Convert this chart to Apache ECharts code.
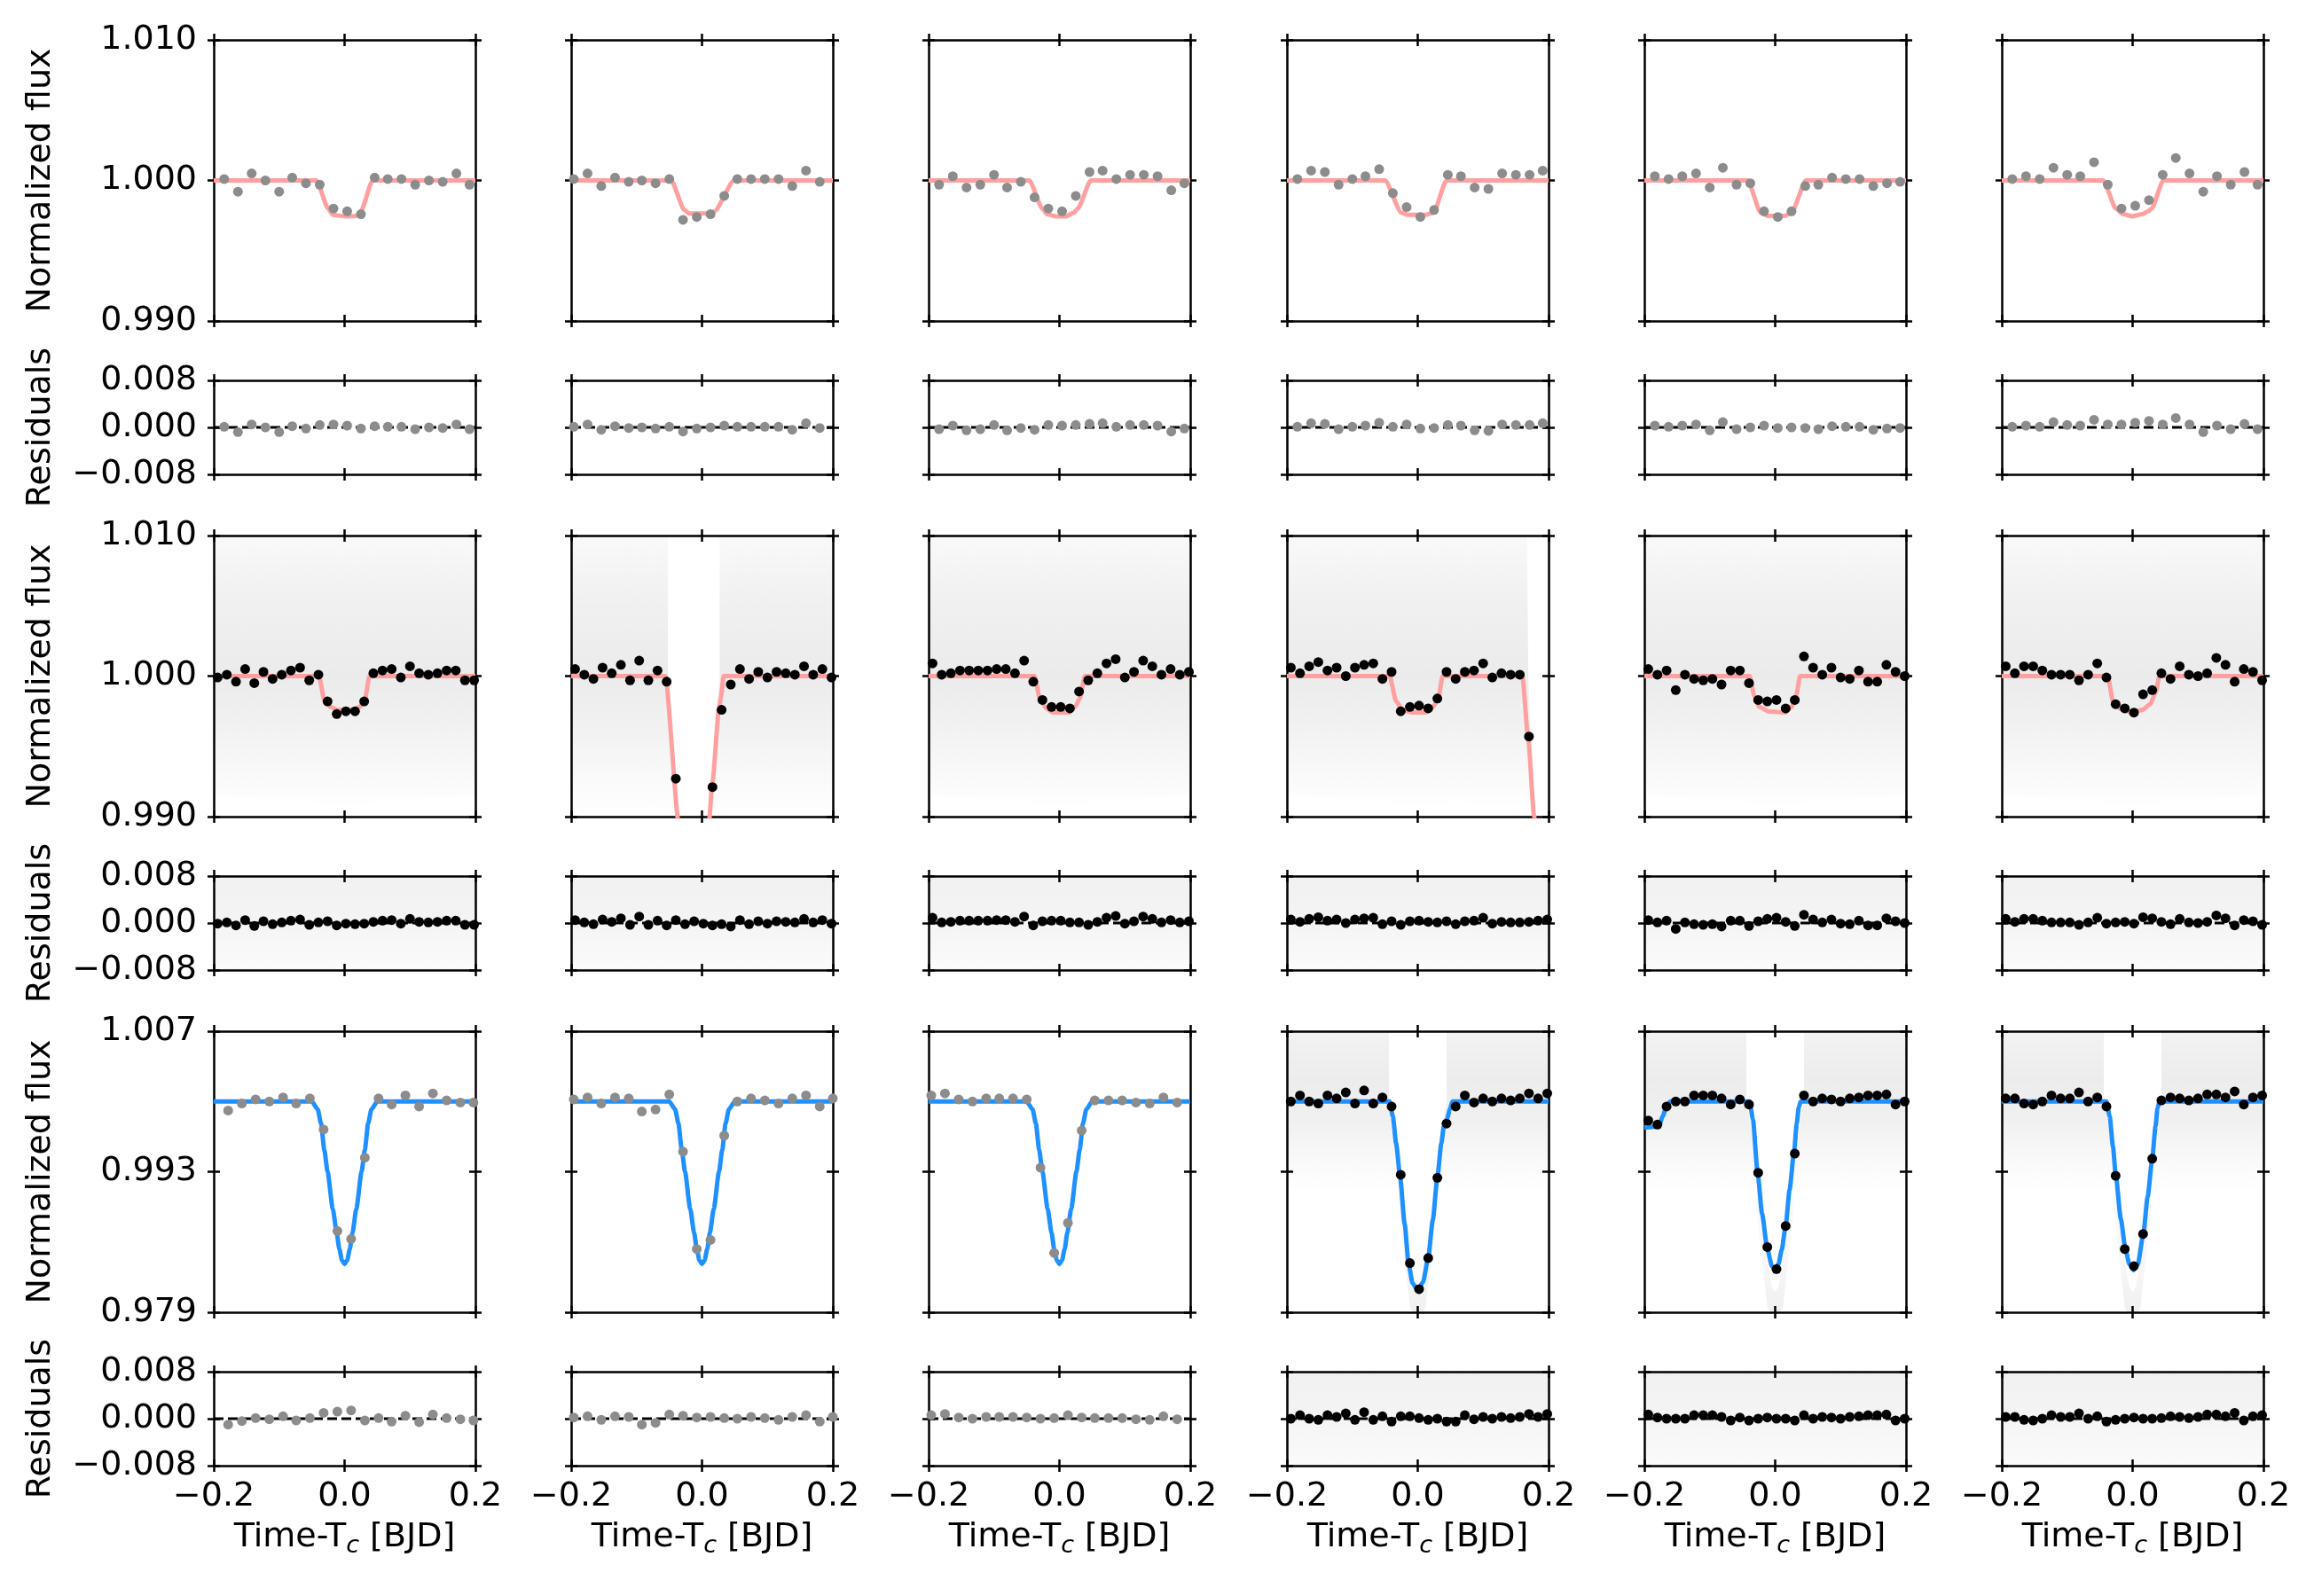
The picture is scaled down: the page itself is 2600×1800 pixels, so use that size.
<!DOCTYPE html>
<html>
<head>
	<meta http-equiv="Content-Type" content="text/html; charset=utf-8" />
	<title>transit fits</title>
	<script type="text/javascript" src="https://cdn.jsdelivr.net/npm/echarts@6/dist/echarts.min.js"></script>
	<style>html,body{margin:0;padding:0;background:#fff;}</style>
</head>
<body>
	<div id="main" style="width:2600px;height:1800px;"></div>
<script>
	// ---- binned times (days from mid transit) ----
	var timeOdd = [-0.184, -0.163, -0.142, -0.121, -0.100, -0.080, -0.059, -0.038, -0.017, 0.004, 0.025, 0.046, 0.066, 0.087, 0.108, 0.129, 0.150, 0.171, 0.191];
	var timeEven = [-0.196, -0.175, -0.154, -0.133, -0.112, -0.092, -0.071, -0.050, -0.029, -0.008, 0.013, 0.034, 0.054, 0.075, 0.096, 0.117, 0.138, 0.159, 0.180, 0.200];
	var timeLate = [-0.178, -0.157, -0.136, -0.115, -0.094, -0.074, -0.053, -0.032, -0.011, 0.010, 0.031, 0.052, 0.072, 0.093, 0.114, 0.135, 0.156, 0.177, 0.197];
	var time20 = [-0.194, -0.180, -0.166, -0.152, -0.138, -0.124, -0.110, -0.096, -0.082, -0.068, -0.054, -0.040, -0.026, -0.012, 0.002, 0.016, 0.030, 0.044, 0.058, 0.072, 0.086, 0.100, 0.114, 0.128, 0.142, 0.156, 0.170, 0.184, 0.198];

	// ---- row 1 ----
	var flux11 = [1.0001, 0.9992, 1.0005, 1.0000, 0.9992, 1.0002, 0.9998, 0.9997, 0.9980, 0.9978, 0.9976, 1.0002, 1.0001, 1.0001, 0.9997, 1.0000, 0.9999, 1.0005, 0.9997];
	var flux12 = [1.0001, 1.0005, 0.9996, 1.0002, 0.9999, 1.0000, 0.9998, 1.0001, 0.9972, 0.9974, 0.9976, 0.9989, 1.0001, 1.0001, 1.0001, 1.0001, 0.9996, 1.0007, 0.9999];
	var flux13 = [0.9997, 1.0003, 0.9995, 0.9997, 1.0004, 0.9995, 0.9999, 0.9988, 0.9980, 0.9978, 0.9989, 1.0006, 1.0007, 1.0001, 1.0004, 1.0004, 1.0003, 0.9993, 0.9998];
	var flux14 = [1.0001, 1.0007, 1.0006, 0.9997, 1.0001, 1.0003, 1.0008, 0.9991, 0.9981, 0.9974, 0.9979, 1.0004, 1.0003, 0.9995, 0.9994, 1.0005, 1.0004, 1.0004, 1.0007];
	var flux15 = [1.0003, 1.0001, 1.0003, 1.0005, 0.9995, 1.0009, 0.9997, 0.9998, 0.9978, 0.9974, 0.9978, 0.9996, 0.9997, 1.0002, 1.0001, 1.0001, 0.9996, 0.9998, 0.9999];
	var flux16 = [1.0001, 1.0003, 1.0001, 1.0009, 1.0004, 1.0003, 1.0013, 0.9997, 0.9980, 0.9982, 0.9986, 1.0004, 1.0016, 1.0005, 0.9992, 1.0003, 0.9997, 1.0006, 0.9997];

	var resid11 = [0.0001, -0.0008, 0.0005, 0.0000, -0.0008, 0.0002, -0.0002, 0.0004, 0.0005, 0.0003, -0.0002, 0.0002, 0.0001, 0.0001, -0.0003, 0.0000, -0.0001, 0.0005, -0.0003];
	var resid12 = [0.0001, 0.0005, -0.0004, 0.0002, -0.0001, 0.0000, -0.0002, 0.0001, -0.0007, -0.0002, 0.0000, 0.0003, 0.0001, 0.0001, 0.0001, 0.0001, -0.0004, 0.0007, -0.0001];
	var resid13 = [-0.0003, 0.0003, -0.0005, -0.0003, 0.0004, -0.0005, -0.0001, -0.0004, 0.0004, 0.0003, 0.0004, 0.0006, 0.0007, 0.0001, 0.0004, 0.0004, 0.0003, -0.0007, -0.0002];
	var resid14 = [0.0001, 0.0007, 0.0006, -0.0003, 0.0001, 0.0003, 0.0008, 0.0001, 0.0005, -0.0002, -0.0001, 0.0004, 0.0003, -0.0005, -0.0006, 0.0005, 0.0004, 0.0004, 0.0007];
	var resid15 = [0.0003, 0.0001, 0.0003, 0.0005, -0.0005, 0.0009, -0.0003, 0.0000, 0.0003, -0.0001, 0.0000, -0.0001, -0.0003, 0.0002, 0.0001, 0.0001, -0.0004, -0.0002, -0.0001];
	var resid16 = [0.0001, 0.0003, 0.0001, 0.0009, 0.0004, 0.0003, 0.0013, 0.0005, 0.0005, 0.0008, 0.0011, 0.0005, 0.0016, 0.0005, -0.0008, 0.0003, -0.0003, 0.0006, -0.0003];

	var model11 = [[-0.2, 1.0], [-0.043, 1.0], [-0.025, 0.9980], [-0.018, 0.99755], [0, 0.99745], [0.018, 0.99748], [0.024, 0.9977], [0.043, 1.0], [0.2, 1.0]];
	var model12 = [[-0.2, 1.0], [-0.047, 1.0], [-0.027, 0.9979], [-0.020, 0.99765], [0.012, 0.99765], [0.019, 0.9978], [0.049, 1.0], [0.2, 1.0]];
	var model13 = [[-0.2, 1.0], [-0.046, 1.0], [-0.026, 0.9980], [-0.019, 0.9976], [-0.005, 0.99744], [0.010, 0.99744], [0.022, 0.9977], [0.028, 0.9980], [0.048, 1.0], [0.2, 1.0]];
	var model14 = [[-0.2, 1.0], [-0.050, 1.0], [-0.025, 0.9977], [-0.015, 0.99755], [0.012, 0.99755], [0.024, 0.9977], [0.044, 1.0], [0.2, 1.0]];
	var model15 = [[-0.2, 1.0], [-0.042, 1.0], [-0.022, 0.9977], [-0.012, 0.99748], [0.015, 0.99748], [0.025, 0.9977], [0.047, 1.0], [0.2, 1.0]];
	var model16 = [[-0.2, 1.0], [-0.045, 1.0], [-0.0255, 0.9980], [-0.015, 0.9976], [0, 0.99745], [0.015, 0.9976], [0.024, 0.9978], [0.029, 0.9980], [0.047, 1.0], [0.2, 1.0]];

	// ---- row 2 ----
	var flux21 = [0.9999, 1.0001, 0.9996, 1.0005, 0.9995, 1.0003, 0.9998, 1.0001, 1.0004, 1.0006, 0.9997, 1.0001, 0.9982, 0.9973, 0.9975, 0.9975, 0.9982, 1.0002, 1.0004, 1.0005, 0.9999, 1.0007, 1.0002, 1.0001, 1.0002, 1.0004, 1.0004, 0.9997, 0.9997];
	var flux22 = [1.0005, 1.0001, 0.9998, 1.0006, 1.0002, 1.0008, 0.9997, 1.0011, 0.9997, 1.0004, 0.9996, 0.9927, null, null, null, 0.9921, 0.9976, 0.9994, 1.0005, 0.9998, 1.0003, 0.9999, 1.0003, 1.0002, 1.0001, 1.0007, 1.0001, 1.0005, 0.9999];
	var flux23 = [1.0009, 1.0001, 1.0002, 1.0004, 1.0004, 1.0004, 1.0004, 1.0005, 1.0005, 1.0002, 1.0011, 0.9996, 0.9983, 0.9978, 0.9978, 0.9977, 0.9989, 0.9997, 1.0002, 1.0009, 1.0012, 0.9999, 1.0003, 1.0011, 1.0007, 1.0001, 1.0005, 1.0001, 1.0003];
	var flux24 = [1.0006, 1.0002, 1.0007, 1.0010, 1.0004, 1.0006, 1.0000, 1.0006, 1.0008, 1.0009, 0.9998, 1.0003, 0.9975, 0.9978, 0.9979, 0.9977, 0.9984, 1.0003, 0.9998, 1.0003, 1.0004, 1.0009, 0.9999, 1.0002, 1.0001, 1.0001, 0.9957, null, null];
	var flux25 = [1.0005, 1.0001, 1.0004, 0.9990, 1.0001, 0.9998, 0.9997, 0.9998, 0.9994, 1.0004, 1.0004, 0.9995, 0.9983, 0.9982, 0.9983, 0.9977, 0.9983, 1.0014, 1.0006, 1.0001, 1.0006, 0.9999, 0.9998, 1.0004, 0.9996, 0.9996, 1.0008, 1.0003, 1.0000];
	var flux26 = [1.0007, 1.0002, 1.0007, 1.0007, 1.0004, 1.0001, 1.0001, 1.0001, 0.9997, 1.0001, 1.0009, 0.9999, 0.9980, 0.9977, 0.9974, 0.9987, 0.9990, 1.0002, 0.9998, 1.0007, 1.0001, 1.0000, 1.0002, 1.0013, 1.0008, 0.9996, 1.0005, 1.0003, 0.9997];

	var resid21 = [-0.0001, 0.0001, -0.0004, 0.0005, -0.0005, 0.0003, -0.0002, 0.0001, 0.0004, 0.0006, -0.0003, 0.0001, 0.0003, -0.0004, -0.0001, -0.0002, -0.0001, 0.0002, 0.0004, 0.0005, -0.0001, 0.0007, 0.0002, 0.0001, 0.0002, 0.0004, 0.0004, -0.0003, -0.0003];
	var resid22 = [0.0005, 0.0001, -0.0002, 0.0006, 0.0002, 0.0008, -0.0003, 0.0011, -0.0003, 0.0004, -0.0004, 0.0005, -0.0002, 0.0003, -0.0001, -0.0004, -0.0002, -0.0006, 0.0005, -0.0002, 0.0003, -0.0001, 0.0003, 0.0002, 0.0001, 0.0007, 0.0001, 0.0005, -0.0001];
	var resid23 = [0.0009, 0.0001, 0.0002, 0.0004, 0.0004, 0.0004, 0.0004, 0.0005, 0.0005, 0.0002, 0.0011, -0.0004, 0.0003, 0.0004, 0.0004, 0.0001, 0.0001, -0.0003, 0.0002, 0.0009, 0.0012, -0.0001, 0.0003, 0.0011, 0.0007, 0.0001, 0.0005, 0.0001, 0.0003];
	var resid24 = [0.0006, 0.0002, 0.0007, 0.0010, 0.0004, 0.0006, 0.0000, 0.0006, 0.0008, 0.0009, -0.0002, 0.0003, -0.0003, 0.0003, 0.0004, 0.0002, 0.0001, 0.0003, -0.0002, 0.0003, 0.0004, 0.0009, -0.0001, 0.0002, 0.0001, 0.0001, 0.0002, 0.0004, 0.0006];
	var resid25 = [0.0005, 0.0001, 0.0004, -0.0010, 0.0001, -0.0002, -0.0003, -0.0002, -0.0006, 0.0004, 0.0004, -0.0005, 0.0003, 0.0007, 0.0009, 0.0002, -0.0005, 0.0014, 0.0006, 0.0001, 0.0006, -0.0001, -0.0002, 0.0004, -0.0004, -0.0004, 0.0008, 0.0003, 0.0000];
	var resid26 = [0.0007, 0.0002, 0.0007, 0.0007, 0.0004, 0.0001, 0.0001, 0.0001, -0.0003, 0.0001, 0.0009, -0.0001, 0.0001, 0.0002, -0.0001, 0.0010, 0.0008, 0.0002, -0.0002, 0.0007, 0.0001, 0.0000, 0.0002, 0.0013, 0.0008, -0.0004, 0.0005, 0.0003, -0.0003];

	var model21 = [[-0.2, 1.0], [-0.039, 1.0], [-0.031, 0.9983], [-0.021, 0.9978], [-0.011, 0.99758], [0.013, 0.99758], [0.023, 0.9978], [0.031, 0.9983], [0.038, 1.0], [0.2, 1.0]];
	var model22 = [[-0.2, 1.0], [-0.056, 1.0], [-0.0355, 0.9895], [0.0105, 0.9895], [0.016, 0.9925], [0.026, 0.9977], [0.029, 0.9985], [0.033, 1.0], [0.2, 1.0]];
	var model23 = [[-0.2, 1.0], [-0.038, 1.0], [-0.030, 0.9984], [-0.020, 0.9977], [-0.010, 0.99741], [0.014, 0.99741], [0.024, 0.9978], [0.031, 0.9984], [0.039, 1.0], [0.2, 1.0]];
	var model24 = [[-0.2, 1.0], [-0.043, 1.0], [-0.033, 0.9982], [-0.023, 0.9976], [-0.008, 0.99741], [0.012, 0.99741], [0.023, 0.9978], [0.031, 0.9983], [0.038, 1.0], [0.160, 1.0], [0.1686, 0.9957], [0.178, 0.9900], [0.181, 0.9885]];
	var model25 = [[-0.2, 1.0], [-0.039, 1.0], [-0.032, 0.9986], [-0.024, 0.9978], [-0.009, 0.99747], [0.0155, 0.99741], [0.025, 0.9978], [0.032, 0.9986], [0.038, 1.0], [0.2, 1.0]];
	var model26 = [[-0.2, 1.0], [-0.038, 1.0], [-0.030, 0.9982], [-0.020, 0.9977], [-0.002, 0.99741], [0.014, 0.99758], [0.027, 0.9980], [0.035, 0.9988], [0.041, 1.0], [0.2, 1.0]];

	// ---- row 3 ----
	var flux31 = [0.9991, 0.9998, 1.0002, 1.0000, 1.0004, 0.9998, 1.0003, 0.9972, 0.9871, 0.9863, 0.9944, 1.0003, 0.9997, 1.0006, 0.9995, 1.0008, 1.0001, 0.9999, 0.9999];
	var flux32 = [1.0002, 1.0004, 0.9998, 1.0004, 1.0003, 0.9990, 0.9992, 1.0007, 0.9950, 0.9853, 0.9862, 0.9966, 1.0000, 1.0003, 1.0001, 0.9998, 1.0003, 1.0006, 0.9995, 1.0003];
	var flux33 = [1.0006, 1.0008, 1.0002, 1.0000, 1.0003, 1.0003, 1.0003, 1.0002, 0.9934, 0.9849, 0.9879, 0.9971, 1.0001, 1.0001, 1.0001, 0.9999, 0.9998, 1.0004, 0.9999];
	var flux34 = [1.0000, 1.0006, 1.0000, 0.9998, 1.0006, 1.0003, 1.0009, 0.9998, 1.0011, 0.9998, 1.0004, 0.9995, 0.9927, 0.9839, 0.9813, 0.9844, 0.9924, 0.9978, 0.9995, 1.0006, 0.9999, 1.0003, 1.0000, 1.0003, 1.0001, 1.0003, 1.0008, 1.0003, 1.0008];
	var flux35 = [0.9981, 0.9977, 0.9995, 1.0000, 1.0000, 1.0006, 1.0006, 1.0006, 1.0003, 0.9997, 1.0002, 0.9997, 0.9929, 0.9855, 0.9833, 0.9876, 0.9948, 1.0006, 1.0000, 1.0003, 1.0002, 1.0000, 1.0003, 1.0004, 1.0006, 1.0006, 1.0007, 0.9997, 1.0000];
	var flux36 = [1.0003, 1.0003, 0.9998, 0.9997, 1.0000, 1.0006, 1.0003, 1.0003, 1.0009, 1.0000, 1.0004, 0.9995, 0.9926, 0.9853, 0.9836, 0.9868, 0.9943, 1.0001, 1.0004, 1.0003, 1.0001, 1.0003, 1.0007, 1.0007, 1.0004, 1.0010, 0.9997, 1.0004, 1.0006];

	var resid31 = [-0.0010, -0.0004, 0.0001, -0.0001, 0.0004, -0.0003, 0.0001, 0.0010, 0.0012, 0.0014, -0.0003, 0.0001, -0.0005, 0.0005, -0.0006, 0.0007, 0.0001, -0.0001, -0.0003];
	var resid32 = [0.0002, 0.0004, -0.0002, 0.0004, 0.0003, -0.0010, -0.0007, 0.0007, 0.0005, 0.0002, 0.0003, 0.0001, 0.0000, 0.0003, 0.0001, -0.0002, 0.0003, 0.0006, -0.0005, 0.0003];
	var resid33 = [0.0006, 0.0008, 0.0002, 0.0000, 0.0003, 0.0003, 0.0003, 0.0002, 0.0000, 0.0001, 0.0006, 0.0002, 0.0001, 0.0001, 0.0001, -0.0001, -0.0002, 0.0004, -0.0001];
	var resid34 = [0.0000, 0.0006, 0.0000, -0.0002, 0.0006, 0.0003, 0.0009, -0.0002, 0.0011, -0.0002, 0.0004, -0.0005, 0.0004, 0.0004, 0.0001, -0.0002, 0.0000, -0.0005, -0.0005, 0.0006, -0.0001, 0.0003, 0.0000, 0.0003, 0.0001, 0.0003, 0.0008, 0.0003, 0.0008];
	var resid35 = [0.0007, 0.0002, 0.0000, 0.0000, 0.0000, 0.0006, 0.0006, 0.0006, 0.0003, -0.0003, 0.0002, -0.0003, 0.0000, 0.0002, 0.0000, 0.0000, -0.0003, 0.0006, 0.0000, 0.0003, 0.0002, 0.0000, 0.0003, 0.0004, 0.0006, 0.0006, 0.0007, -0.0003, 0.0000];
	var resid36 = [0.0003, 0.0003, -0.0002, -0.0003, 0.0000, 0.0006, 0.0003, 0.0003, 0.0009, 0.0000, 0.0004, -0.0005, -0.0002, 0.0000, 0.0002, 0.0000, 0.0000, 0.0001, 0.0004, 0.0003, 0.0001, 0.0003, 0.0007, 0.0007, 0.0004, 0.0010, -0.0003, 0.0004, 0.0006];

	var modelDeep = [[-0.2, 1.0], [-0.050, 1.0], [-0.041, 0.9992], [-0.036, 0.9978], [-0.031, 0.9952], [-0.026, 0.9930], [-0.018, 0.9893], [-0.012, 0.9869], [-0.008, 0.9853], [-0.004, 0.9842], [0, 0.9838], [0.004, 0.9842], [0.008, 0.9853], [0.012, 0.9869], [0.018, 0.9893], [0.026, 0.9930], [0.031, 0.9952], [0.036, 0.9978], [0.041, 0.9992], [0.050, 1.0], [0.2, 1.0]];
	var model34 = [[-0.2, 1.0], [-0.043, 1.0], [-0.038, 0.9985], [-0.033, 0.9958], [-0.027, 0.9925], [-0.020, 0.9878], [-0.014, 0.9838], [-0.008, 0.9819], [0, 0.9812], [0.008, 0.9820], [0.016, 0.9844], [0.023, 0.9882], [0.030, 0.9924], [0.036, 0.9958], [0.040, 0.9976], [0.045, 0.9983], [0.049, 0.9992], [0.053, 1.0], [0.2, 1.0]];
	var model35 = [[-0.2, 0.9974], [-0.178, 0.9975], [-0.172, 0.9985], [-0.166, 0.9996], [-0.160, 1.0], [-0.039, 1.0], [-0.034, 0.9982], [-0.027, 0.9930], [-0.020, 0.9888], [-0.012, 0.9853], [-0.005, 0.9836], [0, 0.9833], [0.005, 0.9838], [0.010, 0.9852], [0.016, 0.9876], [0.022, 0.9912], [0.029, 0.9951], [0.033, 0.9978], [0.036, 0.9994], [0.039, 1.0], [0.2, 1.0]];
	var model36 = [[-0.2, 1.0], [-0.040, 1.0], [-0.035, 0.9985], [-0.030, 0.9955], [-0.026, 0.9928], [-0.018, 0.9883], [-0.011, 0.9853], [-0.005, 0.9838], [0.0015, 0.9832], [0.008, 0.9838], [0.0164, 0.9868], [0.023, 0.9905], [0.030, 0.9943], [0.035, 0.9975], [0.038, 0.9993], [0.041, 1.0], [0.2, 1.0]];

	var zeroLine = [[-0.2, 0], [0.2, 0]];

	// faint clouds of unbinned points, as outline polygons
	var cloudFlat = [[[-0.2, 1.010], [0.2, 1.010], [0.2, 0.9915], [0.05, 0.9912], [0, 0.9902], [-0.05, 0.9912], [-0.2, 0.9915]]];
	var cloudGap = [
		[[-0.2, 1.010], [-0.052, 1.010], [-0.052, 1.000], [-0.036, 0.990], [-0.2, 0.990]],
		[[0.011, 0.990], [0.020, 0.995], [0.027, 1.000], [0.027, 1.010], [0.2, 1.010], [0.2, 0.990]]
	];
	var cloudEdge = [[[-0.2, 1.010], [0.167, 1.010], [0.169, 1.000], [0.176, 0.9905], [0.05, 0.9912], [0, 0.9902], [-0.05, 0.9912], [-0.2, 0.9915]]];
	var cloudDeep = [
		[[-0.2, 1.007], [-0.044, 1.007], [-0.044, 1.000], [-0.038, 0.998], [-0.030, 0.994], [-0.026, 0.991], [-0.2, 0.991]],
		[[0.026, 0.991], [0.030, 0.994], [0.038, 0.998], [0.044, 1.000], [0.044, 1.007], [0.2, 1.007], [0.2, 0.991]]
	];
	var cloudTail = [[[-0.026, 0.992], [-0.020, 0.988], [-0.012, 0.984], [-0.005, 0.9815], [0, 0.981], [0.005, 0.9815], [0.012, 0.984], [0.020, 0.988], [0.026, 0.992],
		[0.030, 0.990], [0.012, 0.9795], [0.008, 0.979], [-0.008, 0.979], [-0.012, 0.9795], [-0.030, 0.990]]];
	var cloudResid = [[[-0.2, 0.008], [0.2, 0.008], [0.2, -0.008], [-0.2, -0.008]]];

	var xTicks = [-0.2, 0, 0.2];
	var fluxTicks = [0.990, 1.000, 1.010];
	var deepTicks = [0.979, 0.993, 1.007];
	var residTicks = [-0.008, 0, 0.008];

	// ---- layout / style ----
	var FONT = 'DejaVu Sans';
	var GRAY = '#8c8c8c', BLACK = '#000000', RED = '#ffa0a0', BLUE = '#1e90ff';
	var colLeft = [241, 644, 1047, 1451, 1854, 2257];
	var panelW = 295;
	var fluxTop = [45, 604, 1163], fluxH = 317;
	var residTop = [429, 988, 1547], residH = 106;
	var frame = {color: '#000', width: 2.5};

	var panels = [
		{row: 0, col: 0, time: timeOdd, flux: flux11, resid: resid11, model: model11, dot: GRAY, line: RED},
		{row: 0, col: 1, time: timeEven, flux: flux12, resid: resid12, model: model12, dot: GRAY, line: RED},
		{row: 0, col: 2, time: timeOdd, flux: flux13, resid: resid13, model: model13, dot: GRAY, line: RED},
		{row: 0, col: 3, time: timeOdd, flux: flux14, resid: resid14, model: model14, dot: GRAY, line: RED},
		{row: 0, col: 4, time: timeOdd, flux: flux15, resid: resid15, model: model15, dot: GRAY, line: RED},
		{row: 0, col: 5, time: timeOdd, flux: flux16, resid: resid16, model: model16, dot: GRAY, line: RED},
		{row: 1, col: 0, time: time20, flux: flux21, resid: resid21, model: model21, dot: BLACK, line: RED, cloud: cloudFlat, rcloud: cloudResid},
		{row: 1, col: 1, time: time20, flux: flux22, resid: resid22, model: model22, dot: BLACK, line: RED, cloud: cloudGap, rcloud: cloudResid},
		{row: 1, col: 2, time: time20, flux: flux23, resid: resid23, model: model23, dot: BLACK, line: RED, cloud: cloudFlat, rcloud: cloudResid},
		{row: 1, col: 3, time: time20, flux: flux24, resid: resid24, model: model24, dot: BLACK, line: RED, cloud: cloudEdge, rcloud: cloudResid},
		{row: 1, col: 4, time: time20, flux: flux25, resid: resid25, model: model25, dot: BLACK, line: RED, cloud: cloudFlat, rcloud: cloudResid},
		{row: 1, col: 5, time: time20, flux: flux26, resid: resid26, model: model26, dot: BLACK, line: RED, cloud: cloudFlat, rcloud: cloudResid},
		{row: 2, col: 0, time: timeLate, flux: flux31, resid: resid31, model: modelDeep, dot: GRAY, line: BLUE},
		{row: 2, col: 1, time: timeEven, flux: flux32, resid: resid32, model: modelDeep, dot: GRAY, line: BLUE},
		{row: 2, col: 2, time: timeEven, flux: flux33, resid: resid33, model: modelDeep, dot: GRAY, line: BLUE},
		{row: 2, col: 3, time: time20, flux: flux34, resid: resid34, model: model34, dot: BLACK, line: BLUE, cloud: cloudDeep, tail: cloudTail, rcloud: cloudResid},
		{row: 2, col: 4, time: time20, flux: flux35, resid: resid35, model: model35, dot: BLACK, line: BLUE, cloud: cloudDeep, tail: cloudTail, rcloud: cloudResid},
		{row: 2, col: 5, time: time20, flux: flux36, resid: resid36, model: model36, dot: BLACK, line: BLUE, cloud: cloudDeep, tail: cloudTail, rcloud: cloudResid}
	];

	var grids = [], xAxes = [], yAxes = [], series = [];

	function fmt(dec) {
		return function (v) { return v.toFixed(dec).replace('-', '\u2212'); };
	}

	var txt = {fontSize: 38, fontFamily: FONT, color: '#000'};

	function addGrid(left, top, height, yMin, yMax, yTicks, xLabels, yName) {
		var g = grids.length;
		grids.push({left: left, top: top, width: panelW, height: height});
		var xi = xAxes.length, yi = yAxes.length;
		['bottom', 'top'].forEach(function (pos) {
			[false, true].forEach(function (inside) {
				var main = pos === 'bottom' && !inside && xLabels;
				xAxes.push({
					type: 'value', gridIndex: g, position: pos, min: -0.2, max: 0.2,
					axisLine: {show: !inside, onZero: false, lineStyle: frame},
					axisTick: {show: true, inside: inside, length: 7, customValues: xTicks, lineStyle: frame},
					axisLabel: {show: main, customValues: xTicks, formatter: fmt(1), margin: 16,
						fontSize: 38, fontFamily: FONT, color: '#000'},
					splitLine: {show: false},
					name: main ? '{n|Time-T}{s|c}{n| [BJD]}' : '',
					nameLocation: 'middle', nameGap: 58,
					nameTextStyle: {fontSize: 38, fontFamily: FONT, color: '#000', rich: {
						n: {fontSize: 38, fontFamily: FONT, color: '#000', lineHeight: 46},
						s: {fontSize: 27, fontFamily: FONT, fontStyle: 'italic', color: '#000', lineHeight: 14, verticalAlign: 'bottom'}
					}}
				});
			});
		});
		['left', 'right'].forEach(function (pos) {
			[false, true].forEach(function (inside) {
				var main = pos === 'left' && !inside && yName;
				yAxes.push({
					type: 'value', gridIndex: g, position: pos, min: yMin, max: yMax,
					axisLine: {show: !inside, onZero: false, lineStyle: frame},
					axisTick: {show: true, inside: inside, length: 7, customValues: yTicks, lineStyle: frame},
					axisLabel: {show: !!main, customValues: yTicks, formatter: fmt(3), margin: 19,
						fontSize: 38, fontFamily: FONT, color: '#000'},
					splitLine: {show: false},
					name: main ? yName : '',
					nameLocation: 'middle', nameGap: 176,
					nameTextStyle: txt
				});
			});
		});
		return {x: xi, y: yi};
	}

	function cloudSeries(ax, polys, stops) {
		return {
			type: 'custom', xAxisIndex: ax.x, yAxisIndex: ax.y, silent: true, z: 1,
			data: polys.map(function (p) { return p[0]; }),
			renderItem: function (params, api) {
				var pts = polys[params.dataIndex].map(function (p) { return api.coord(p); });
				return {
					type: 'polygon', shape: {points: pts},
					style: {fill: new echarts.graphic.LinearGradient(0, 0, 0, 1, stops)}
				};
			}
		};
	}

	function pairs(time, vals) {
		var out = [];
		vals.forEach(function (v, i) { if (v !== null) out.push([time[i], v]); });
		return out;
	}

	var fluxStops = [
		{offset: 0, color: 'rgba(0,0,0,0.025)'}, {offset: 0.25, color: 'rgba(0,0,0,0.06)'},
		{offset: 0.5, color: 'rgba(0,0,0,0.08)'}, {offset: 0.7, color: 'rgba(0,0,0,0.05)'},
		{offset: 0.9, color: 'rgba(0,0,0,0.015)'}, {offset: 1, color: 'rgba(0,0,0,0.0)'}
	];
	var deepStops = [
		{offset: 0, color: 'rgba(0,0,0,0.05)'}, {offset: 0.3, color: 'rgba(0,0,0,0.075)'},
		{offset: 0.55, color: 'rgba(0,0,0,0.06)'}, {offset: 0.8, color: 'rgba(0,0,0,0.025)'},
		{offset: 1, color: 'rgba(0,0,0,0.0)'}
	];
	var tailStops = [
		{offset: 0, color: 'rgba(0,0,0,0.015)'}, {offset: 0.6, color: 'rgba(0,0,0,0.03)'},
		{offset: 1, color: 'rgba(0,0,0,0.06)'}
	];
	var residStops = [
		{offset: 0, color: 'rgba(0,0,0,0.055)'}, {offset: 0.5, color: 'rgba(0,0,0,0.045)'},
		{offset: 1, color: 'rgba(0,0,0,0.015)'}
	];

	panels.forEach(function (p) {
		var deep = p.row === 2;
		var left = colLeft[p.col];
		var fx = addGrid(left, fluxTop[p.row], fluxH,
			deep ? 0.979 : 0.990, deep ? 1.007 : 1.010, deep ? deepTicks : fluxTicks,
			false, p.col === 0 ? 'Normalized flux' : null);
		var rx = addGrid(left, residTop[p.row], residH, -0.008, 0.008, residTicks,
			p.row === 2, p.col === 0 ? 'Residuals' : null);

		if (p.cloud) series.push(cloudSeries(fx, p.cloud, deep ? deepStops : fluxStops));
		if (p.tail) series.push(cloudSeries(fx, p.tail, tailStops));
		series.push({
			type: 'line', xAxisIndex: fx.x, yAxisIndex: fx.y, data: p.model, showSymbol: false,
			smooth: 0.2, smoothMonotone: 'x', clip: true, silent: true, z: 2,
			lineStyle: {color: p.line, width: 5}
		});
		series.push({
			type: 'scatter', xAxisIndex: fx.x, yAxisIndex: fx.y, data: pairs(p.time, p.flux),
			symbolSize: 11, clip: true, silent: true, z: 3, itemStyle: {color: p.dot, opacity: 1}
		});

		if (p.rcloud) series.push(cloudSeries(rx, p.rcloud, residStops));
		series.push({
			type: 'line', xAxisIndex: rx.x, yAxisIndex: rx.y, data: zeroLine, showSymbol: false,
			silent: true, z: 2, lineStyle: {color: '#000', width: 3, type: [11, 5]}
		});
		series.push({
			type: 'scatter', xAxisIndex: rx.x, yAxisIndex: rx.y, data: pairs(p.time, p.resid),
			symbolSize: 11, silent: true, z: 3, itemStyle: {color: p.dot, opacity: 1}
		});
	});

	var chart = echarts.init(document.getElementById('main'));
	chart.setOption({
		backgroundColor: '#ffffff',
		animation: false,
		grid: grids,
		xAxis: xAxes,
		yAxis: yAxes,
		series: series
	});
</script>
</body>
</html>
